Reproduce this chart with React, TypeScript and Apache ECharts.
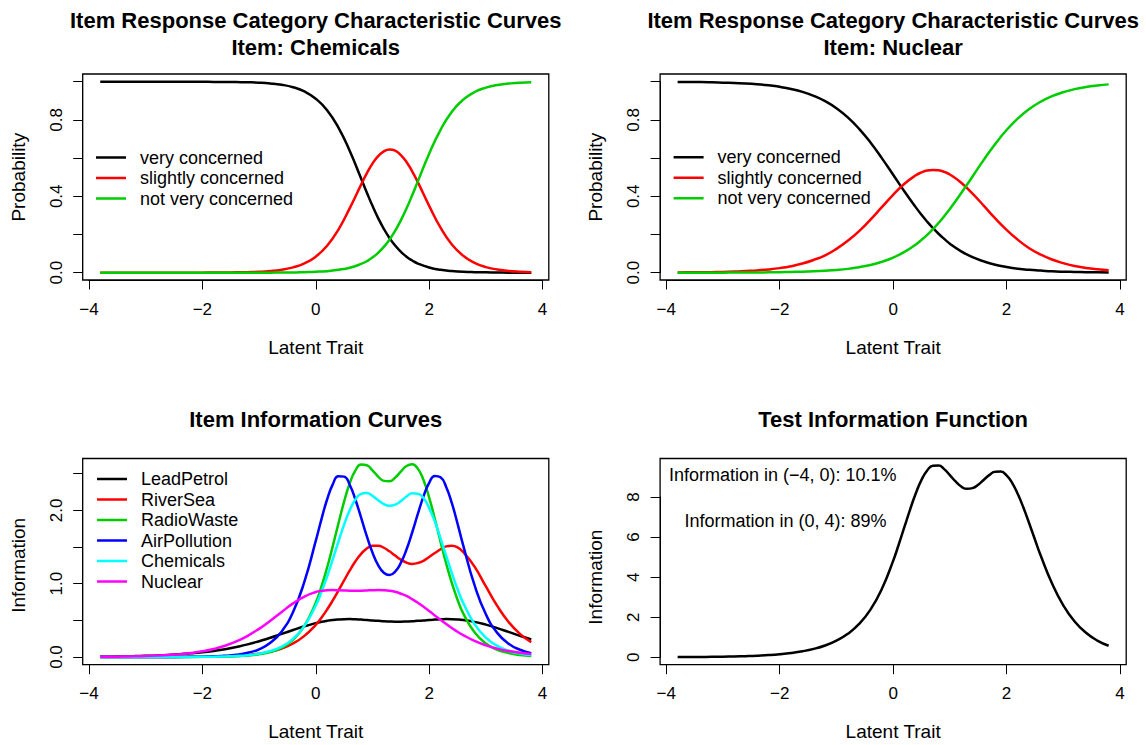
import React, { useEffect, useRef } from "react";
import * as echarts from "echarts";

// ---------------- data ----------------
// latent trait values at which each panel's curves were read
const thetaChem = [-3.8, -3.6, -3.4, -3.2, -3.0, -2.8, -2.6, -2.4, -2.2, -2.0, -1.8, -1.6, -1.4, -1.2, -1.0, -0.8, -0.6, -0.4, -0.2, 0, 0.2, 0.4, 0.6, 0.8, 0.9, 1.0, 1.1, 1.2, 1.3, 1.4, 1.5, 1.6, 1.7, 1.8, 2.0, 2.2, 2.4, 2.6, 2.8, 3.0, 3.2, 3.4, 3.6, 3.8];
const thetaNuc = [-3.8, -3.6, -3.4, -3.2, -3.0, -2.8, -2.6, -2.4, -2.2, -2.0, -1.8, -1.6, -1.4, -1.2, -1.0, -0.8, -0.6, -0.4, -0.2, 0, 0.2, 0.4, 0.5, 0.6, 0.7, 0.8, 0.9, 1.0, 1.2, 1.4, 1.6, 1.8, 2.0, 2.2, 2.4, 2.6, 2.8, 3.0, 3.2, 3.4, 3.6, 3.8];
const thetaInfo = [-3.8, -3.6, -3.4, -3.2, -3.0, -2.8, -2.6, -2.4, -2.2, -2.0, -1.8, -1.6, -1.4, -1.2, -1.0, -0.8, -0.6, -0.4, -0.2, 0, 0.1, 0.2, 0.3, 0.4, 0.5, 0.6, 0.7, 0.8, 0.9, 1.0, 1.1, 1.2, 1.3, 1.4, 1.5, 1.6, 1.7, 1.8, 1.9, 2.0, 2.1, 2.2, 2.3, 2.4, 2.5, 2.6, 2.8, 3.0, 3.2, 3.4, 3.6, 3.8];

const categories = ["very concerned", "slightly concerned", "not very concerned"];
const categoryColors = ["#000000", "#FF0000", "#00CD00"];

const chemVery = [1, 1, 1, 1, 1, 1, 1, 1, 1, 1, 0.999, 0.999, 0.998, 0.997, 0.995, 0.991, 0.984, 0.971, 0.949, 0.911, 0.851, 0.760, 0.637, 0.493, 0.420, 0.350, 0.286, 0.230, 0.182, 0.142, 0.110, 0.084, 0.064, 0.048, 0.027, 0.015, 0.009, 0.005, 0.003, 0.002, 0.001, 0, 0, 0];
const chemSlightly = [0, 0, 0, 0, 0, 0, 0, 0, 0, 0, 0.001, 0.001, 0.002, 0.003, 0.005, 0.009, 0.016, 0.028, 0.049, 0.084, 0.141, 0.226, 0.338, 0.461, 0.520, 0.571, 0.610, 0.635, 0.645, 0.639, 0.616, 0.580, 0.531, 0.474, 0.350, 0.236, 0.148, 0.089, 0.052, 0.029, 0.017, 0.009, 0.005, 0.003];
const chemNotVery = [0, 0, 0, 0, 0, 0, 0, 0, 0, 0, 0, 0, 0, 0, 0, 0, 0.001, 0.001, 0.003, 0.005, 0.008, 0.015, 0.026, 0.046, 0.060, 0.079, 0.104, 0.135, 0.173, 0.219, 0.274, 0.336, 0.405, 0.478, 0.623, 0.748, 0.843, 0.906, 0.946, 0.969, 0.983, 0.990, 0.995, 0.997];

const nucVery = [0.999, 0.998, 0.998, 0.997, 0.995, 0.993, 0.991, 0.987, 0.981, 0.973, 0.962, 0.947, 0.926, 0.898, 0.861, 0.813, 0.753, 0.682, 0.600, 0.513, 0.425, 0.342, 0.303, 0.267, 0.234, 0.204, 0.177, 0.152, 0.112, 0.081, 0.059, 0.042, 0.030, 0.021, 0.015, 0.011, 0.007, 0.005, 0.004, 0.003, 0.002, 0.001];
const nucSlightly = [0.001, 0.002, 0.002, 0.003, 0.004, 0.006, 0.009, 0.012, 0.017, 0.024, 0.034, 0.048, 0.067, 0.091, 0.125, 0.167, 0.218, 0.278, 0.343, 0.408, 0.466, 0.510, 0.525, 0.535, 0.538, 0.536, 0.528, 0.514, 0.471, 0.414, 0.350, 0.284, 0.224, 0.172, 0.128, 0.095, 0.069, 0.050, 0.035, 0.025, 0.018, 0.013];
const nucNotVery = [0, 0, 0, 0, 0, 0.001, 0.001, 0.001, 0.002, 0.003, 0.004, 0.005, 0.007, 0.010, 0.014, 0.020, 0.029, 0.040, 0.057, 0.079, 0.109, 0.148, 0.172, 0.198, 0.228, 0.260, 0.296, 0.334, 0.417, 0.504, 0.592, 0.674, 0.747, 0.808, 0.857, 0.895, 0.924, 0.945, 0.961, 0.972, 0.980, 0.986];

const items = ["LeadPetrol", "RiverSea", "RadioWaste", "AirPollution", "Chemicals", "Nuclear"];
const itemColors = ["#000000", "#FF0000", "#00CD00", "#0000FF", "#00FFFF", "#FF00FF"];

const infoLeadPetrol = [0.006, 0.007, 0.010, 0.013, 0.017, 0.022, 0.029, 0.038, 0.050, 0.064, 0.083, 0.107, 0.137, 0.172, 0.215, 0.262, 0.315, 0.368, 0.419, 0.462, 0.480, 0.494, 0.505, 0.512, 0.516, 0.517, 0.514, 0.510, 0.505, 0.498, 0.493, 0.487, 0.484, 0.482, 0.482, 0.484, 0.487, 0.493, 0.498, 0.505, 0.510, 0.514, 0.517, 0.516, 0.512, 0.504, 0.479, 0.441, 0.394, 0.342, 0.289, 0.238];
const infoRiverSea = [0, 0, 0, 0, 0, 0.001, 0.001, 0.002, 0.003, 0.004, 0.007, 0.011, 0.017, 0.028, 0.045, 0.073, 0.116, 0.184, 0.288, 0.439, 0.536, 0.647, 0.771, 0.906, 1.045, 1.181, 1.305, 1.407, 1.480, 1.517, 1.519, 1.490, 1.441, 1.383, 1.328, 1.288, 1.270, 1.281, 1.312, 1.364, 1.418, 1.469, 1.509, 1.517, 1.496, 1.432, 1.232, 0.962, 0.697, 0.478, 0.315, 0.202];
const infoRadioWaste = [0, 0, 0, 0, 0, 0, 0, 0, 0.001, 0.002, 0.003, 0.005, 0.010, 0.020, 0.037, 0.068, 0.127, 0.235, 0.424, 0.741, 0.959, 1.218, 1.512, 1.821, 2.119, 2.371, 2.546, 2.624, 2.615, 2.546, 2.461, 2.402, 2.396, 2.446, 2.528, 2.604, 2.629, 2.569, 2.413, 2.174, 1.883, 1.573, 1.275, 1.008, 0.781, 0.596, 0.336, 0.184, 0.099, 0.054, 0.028, 0.015];
const infoAirPollution = [0, 0, 0, 0, 0, 0, 0.001, 0.001, 0.002, 0.005, 0.009, 0.016, 0.030, 0.057, 0.105, 0.193, 0.349, 0.614, 1.028, 1.583, 1.878, 2.148, 2.354, 2.464, 2.460, 2.346, 2.145, 1.900, 1.649, 1.425, 1.253, 1.149, 1.119, 1.164, 1.283, 1.466, 1.698, 1.951, 2.191, 2.376, 2.470, 2.451, 2.320, 2.098, 1.820, 1.523, 0.979, 0.582, 0.329, 0.182, 0.099, 0.053];
const infoChemicals = [0, 0, 0, 0, 0, 0, 0, 0.001, 0.001, 0.003, 0.004, 0.008, 0.014, 0.025, 0.045, 0.081, 0.142, 0.248, 0.425, 0.702, 0.886, 1.098, 1.331, 1.573, 1.805, 2.004, 2.148, 2.225, 2.236, 2.198, 2.139, 2.085, 2.063, 2.078, 2.126, 2.188, 2.232, 2.227, 2.169, 2.030, 1.848, 1.618, 1.379, 1.144, 0.927, 0.738, 0.449, 0.263, 0.151, 0.086, 0.048, 0.027];
const infoNuclear = [0.003, 0.004, 0.006, 0.009, 0.013, 0.019, 0.027, 0.038, 0.055, 0.078, 0.110, 0.154, 0.213, 0.289, 0.384, 0.495, 0.615, 0.731, 0.825, 0.886, 0.902, 0.911, 0.913, 0.911, 0.908, 0.904, 0.903, 0.904, 0.907, 0.911, 0.913, 0.911, 0.904, 0.889, 0.863, 0.833, 0.789, 0.741, 0.685, 0.627, 0.567, 0.507, 0.449, 0.395, 0.344, 0.298, 0.220, 0.159, 0.114, 0.081, 0.057, 0.040];

const testInfo = [0.009, 0.011, 0.016, 0.022, 0.030, 0.042, 0.058, 0.080, 0.112, 0.156, 0.216, 0.301, 0.421, 0.591, 0.831, 1.172, 1.664, 2.380, 3.409, 4.813, 5.641, 6.516, 7.386, 8.187, 8.853, 9.323, 9.561, 9.570, 9.392, 9.095, 8.778, 8.524, 8.407, 8.442, 8.610, 8.863, 9.105, 9.262, 9.268, 9.076, 8.696, 8.132, 7.449, 6.677, 5.880, 5.091, 3.695, 2.591, 1.784, 1.223, 0.836, 0.575];

const xTickLabels = ["\u22124", "\u22122", "0", "2", "4"];
const probTickLabels = ["0.0", "0.4", "0.8"];
const itemInfoTickLabels = ["0.0", "1.0", "2.0"];
const testInfoTickLabels = ["0", "2", "4", "6", "8"];

const titles = [
  ["Item Response Category Characteristic Curves", "Item: Chemicals"],
  ["Item Response Category Characteristic Curves", "Item: Nuclear"],
  ["Item Information Curves"],
  ["Test Information Function"],
];
const annotations = ["Information in (\u22124, 0): 10.1%", "Information in (0, 4): 89%"];

// ---------------- layout ----------------
const FONT = "'Liberation Sans', Arial, Helvetica, sans-serif";
const panels = [
  { gl: 88.9, gt: 81.7, gw: 453.7, gh: 191, box: [82.7, 74, 466.1, 206], xOff: 7.3, yOff: 6.2, titleY: [20.2, 47.5] },
  { gl: 666.3, gt: 81.7, gw: 453.7, gh: 191, box: [660.1, 74, 466.1, 206], xOff: 7.3, yOff: 6.2, titleY: [20.2, 47.5] },
  { gl: 88.9, gt: 473.7, gw: 453.7, gh: 183.3, box: [82.7, 458.5, 466.1, 206.2], xOff: 7.7, yOff: 6.2, titleY: [419] },
  { gl: 666.3, gt: 497, gw: 453.7, gh: 160.3, box: [660.1, 458.5, 466.1, 206.2], xOff: 7.4, yOff: 6.2, titleY: [419] },
];

function labelFormatter(values: number[], labels: string[]) {
  return (v: number) => {
    for (let i = 0; i < values.length; i++) {
      if (Math.abs(v - values[i]) < 1e-6) return labels[i];
    }
    return "";
  };
}

function xAxis(i: number) {
  const p = panels[i];
  return {
    type: "value",
    gridIndex: i,
    min: -4,
    max: 4,
    interval: 2,
    offset: p.xOff,
    name: "Latent Trait",
    nameLocation: "middle",
    nameGap: 57.5,
    nameTextStyle: { fontSize: 19, color: "#000", fontFamily: FONT },
    axisLine: { show: true, onZero: false, lineStyle: { color: "#000", width: 1 } },
    axisTick: { show: true, length: 9.5, lineStyle: { color: "#000", width: 1 } },
    axisLabel: {
      fontSize: 17,
      color: "#000",
      fontFamily: FONT,
      margin: 20.5,
      formatter: labelFormatter([-4, -2, 0, 2, 4], xTickLabels),
    },
    splitLine: { show: false },
  };
}

function yAxis(i: number, name: string, max: number, interval: number, labelVals: number[], labels: string[]) {
  const p = panels[i];
  return {
    type: "value",
    gridIndex: i,
    min: 0,
    max,
    interval,
    offset: p.yOff,
    name,
    nameLocation: "middle",
    nameGap: 55,
    nameTextStyle: { fontSize: 19, color: "#000", fontFamily: FONT },
    axisLine: { show: true, onZero: false, lineStyle: { color: "#000", width: 1 } },
    axisTick: { show: true, length: 9.5, lineStyle: { color: "#000", width: 1 } },
    axisLabel: {
      fontSize: 17,
      color: "#000",
      fontFamily: FONT,
      rotate: 90,
      margin: 18,
      formatter: labelFormatter(labelVals, labels),
    },
    splitLine: { show: false },
  };
}

function lineSeries(name: string, color: string, xs: number[], values: number[], idx: number) {
  return {
    type: "line",
    name,
    xAxisIndex: idx,
    yAxisIndex: idx,
    data: xs.map((t, k) => [t, values[k]]),
    showSymbol: false,
    symbol: "none",
    smooth: true,
    clip: false,
    itemStyle: { color },
    lineStyle: { color, width: 2.5 },
    emphasis: { disabled: true },
  };
}

function legend(names: string[], left: number, top: number) {
  return {
    data: names,
    left,
    top,
    orient: "vertical",
    icon: "rect",
    itemWidth: 30,
    itemHeight: 2.5,
    itemGap: 0,
    padding: 0,
    selectedMode: false,
    textStyle: { fontSize: 18, color: "#000", fontFamily: FONT, lineHeight: 20.5, padding: [0, 0, 0, 9] },
  };
}

export default function App() {
  const ref = useRef<HTMLDivElement>(null);
  useEffect(() => {
    if (!ref.current) return;
    const chart = echarts.init(ref.current, undefined, { renderer: "svg" });

    const graphic: any[] = [];
    panels.forEach((p, i) => {
      graphic.push({
        type: "rect",
        shape: { x: p.box[0], y: p.box[1], width: p.box[2], height: p.box[3] },
        style: { fill: "none", stroke: "#000", lineWidth: 1.3 },
        silent: true,
      });
      const cx = p.box[0] + p.box[2] / 2;
      titles[i].forEach((t, k) => {
        graphic.push({
          type: "text",
          style: {
            text: t,
            x: cx,
            y: p.titleY[k],
            fill: "#000",
            font: `bold 22px ${FONT}`,
            align: "center",
            verticalAlign: "middle",
            textAlign: "center",
            textVerticalAlign: "middle",
          },
          silent: true,
        });
      });
    });
    const annX = [782.7, 785.6];
    const annY = [475.3, 521.3];
    annotations.forEach((t, k) => {
      graphic.push({
        type: "text",
        style: {
          text: t,
          x: annX[k],
          y: annY[k],
          fill: "#000",
          font: `18px ${FONT}`,
          align: "center",
          verticalAlign: "middle",
          textAlign: "center",
          textVerticalAlign: "middle",
        },
        silent: true,
      });
    });

    const chemSeries = [chemVery, chemSlightly, chemNotVery];
    const nucSeries = [nucVery, nucSlightly, nucNotVery];
    const infoSeries = [infoLeadPetrol, infoRiverSea, infoRadioWaste, infoAirPollution, infoChemicals, infoNuclear];

    const series: any[] = [];
    categories.forEach((c, k) => series.push(lineSeries(c, categoryColors[k], thetaChem, chemSeries[k], 0)));
    categories.forEach((c, k) => series.push(lineSeries(c, categoryColors[k], thetaNuc, nucSeries[k], 1)));
    items.forEach((c, k) => series.push(lineSeries(c, itemColors[k], thetaInfo, infoSeries[k], 2)));
    series.push(lineSeries("Test Information", "#000000", thetaInfo, testInfo, 3));

    chart.setOption({
      animation: false,
      backgroundColor: "#ffffff",
      textStyle: { fontFamily: FONT },
      grid: panels.map((p) => ({ left: p.gl, top: p.gt, width: p.gw, height: p.gh, show: false, containLabel: false })),
      xAxis: [0, 1, 2, 3].map((i) => xAxis(i)),
      yAxis: [
        yAxis(0, "Probability", 1, 0.2, [0, 0.4, 0.8], probTickLabels),
        yAxis(1, "Probability", 1, 0.2, [0, 0.4, 0.8], probTickLabels),
        yAxis(2, "Information", 2.5, 0.5, [0, 1, 2], itemInfoTickLabels),
        yAxis(3, "Information", 8, 2, [0, 2, 4, 6, 8], testInfoTickLabels),
      ],
      legend: [legend(categories, 96, 147.25), legend(categories, 673.6, 147), legend(items, 97, 468.75)],
      graphic,
      series,
    });
    return () => chart.dispose();
  }, []);
  return (
    <div
      ref={ref}
      style={{ position: "fixed", left: 0, top: 0, width: 1146, height: 745, background: "#fff" }}
    />
  );
}
